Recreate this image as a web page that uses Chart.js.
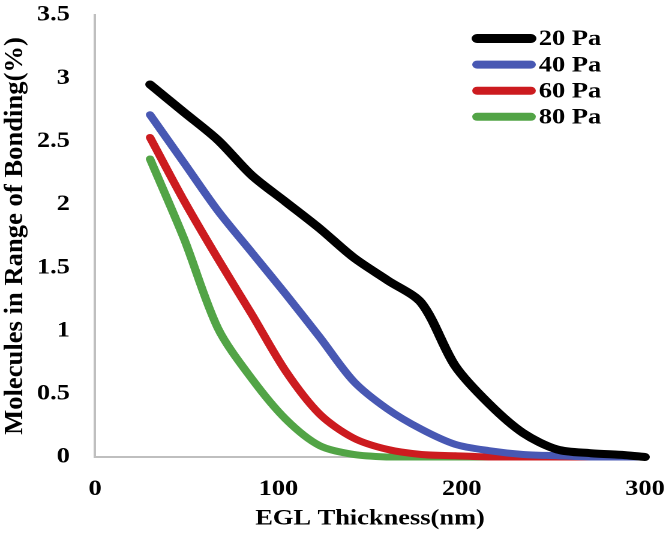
<!DOCTYPE html>
<html>
<head>
<meta charset="utf-8">
<script src="https://cdn.jsdelivr.net/npm/chart.js@4.4.1/dist/chart.umd.min.js"></script>
<style>
  html, body { margin: 0; padding: 0; background: #fff; overflow: hidden; }
  /* the original picture is stretched sideways, so the chart is drawn narrow and widened */
  #wrap { width: 555px; height: 539px; transform: scaleX(1.2); transform-origin: 0 0; }
</style>
</head>
<body>
<div id="wrap"><canvas id="bondChart"></canvas></div>
<script>
// EGL thickness (nm) where each curve has a point
const thickness = [30, 48.5, 67, 85.5, 104, 122.5, 141, 159.5, 178, 196.5, 215, 233.5, 252, 270.5, 289, 300];

// Molecules in range of bonding (%)
const pa20 = [2.95, 2.73, 2.51, 2.23, 2.02, 1.81, 1.58, 1.40, 1.22, 0.72, 0.42, 0.19, 0.06, 0.03, 0.015, 0];
const pa40 = [2.71, 2.33, 1.95, 1.62, 1.29, 0.95, 0.60, 0.38, 0.22, 0.10, 0.05, 0.02, 0.01, 0, 0, 0];
const pa60 = [2.53, 2.03, 1.57, 1.13, 0.68, 0.34, 0.15, 0.06, 0.02, 0.01, 0, 0, 0, 0, 0, 0];
const pa80 = [2.36, 1.73, 1.02, 0.62, 0.30, 0.09, 0.02, 0, 0, 0, 0, 0, 0, 0, 0, 0];

const seriesLabels = ["20 Pa", "40 Pa", "60 Pa", "80 Pa"];
const xTicks = [0, 100, 200, 300];
const yTicks = [0, 0.5, 1, 1.5, 2, 2.5, 3, 3.5];

const xTitle = "EGL Thickness(nm)";
const yTitle = "Molecules in Range of Bonding(%)";

const serif = "'Liberation Serif', 'Times New Roman', serif";
Chart.defaults.font.family = serif;
Chart.defaults.color = "#000";

const toPoints = (vals) => vals.map((v, i) => ({ x: thickness[i], y: v }));

function series(label, vals, color, width) {
  return {
    label: label,
    data: toPoints(vals),
    borderColor: color,
    backgroundColor: color,
    borderWidth: width,
    borderCapStyle: "round",
    borderJoinStyle: "round",
    pointRadius: 0,
    tension: 0.3,
    fill: false,
    clip: 8,
  };
}

// legend in a column at the top right, as in the original
const sideLegend = {
  id: "sideLegend",
  afterDraw(chart) {
    const ctx = chart.ctx;
    ctx.save();
    chart.data.datasets.forEach((ds, i) => {
      const y = 38.5 + i * 26.1;
      ctx.beginPath();
      ctx.lineCap = "round";
      ctx.strokeStyle = ds.borderColor;
      ctx.lineWidth = i === 0 ? 9 : 8;
      ctx.moveTo(397.5, y);
      ctx.lineTo(442.5, y);
      ctx.stroke();
      ctx.fillStyle = "#000";
      ctx.font = "bold 22px " + serif;
      ctx.textAlign = "left";
      ctx.textBaseline = "middle";
      ctx.fillText(ds.label, 449, y + 1);
    });
    ctx.restore();
  },
};

// y title: the original's letters run longer than they are thick
const yAxisTitle = {
  id: "yAxisTitle",
  afterDraw(chart) {
    const ctx = chart.ctx;
    const area = chart.chartArea;
    ctx.save();
    ctx.translate(18.3, (area.top + area.bottom) / 2);
    ctx.rotate(-Math.PI / 2);
    ctx.scale(1.21, 1);
    ctx.fillStyle = "#000";
    ctx.font = "bold 22px " + serif;
    ctx.textAlign = "center";
    ctx.textBaseline = "alphabetic";
    ctx.fillText(yTitle, 0, 0);
    ctx.restore();
  },
};

const ctx = document.getElementById("bondChart").getContext("2d");
const bondChart = new Chart(ctx, {
  type: "line",
  data: {
    datasets: [
      series(seriesLabels[0], pa20, "#000000", 8),
      series(seriesLabels[1], pa40, "#4858b3", 7),
      series(seriesLabels[2], pa60, "#cc1b1f", 7),
      series(seriesLabels[3], pa80, "#52a446", 7),
    ],
  },
  options: {
    responsive: true,
    maintainAspectRatio: false,
    animation: false,
    devicePixelRatio: 2,
    layout: { padding: { top: 15, right: 17.5, left: 0, bottom: 0 } },
    plugins: {
      legend: { display: false },
      tooltip: { enabled: false },
    },
    scales: {
      x: {
        type: "linear",
        min: 0,
        max: 300,
        afterBuildTicks: (scale) => { scale.ticks = xTicks.map((v) => ({ value: v })); },
        afterFit: (scale) => {
          scale.height = 82;
          scale.paddingLeft = 0;
          scale.paddingRight = 0;
        },
        grid: { display: false, drawTicks: false },
        border: { display: true, color: "#bfbfbf", width: 2 },
        ticks: {
          padding: 19,
          maxRotation: 0,
          color: "#000",
          font: { size: 22, weight: "bold" },
          callback: (v) => String(v),
        },
        title: {
          display: true,
          text: xTitle,
          color: "#000",
          padding: { top: 0, bottom: 7 },
          font: { size: 22, weight: "bold", lineHeight: 1.2 },
        },
      },
      y: {
        min: 0,
        max: 3.5,
        afterBuildTicks: (scale) => { scale.ticks = yTicks.map((v) => ({ value: v })); },
        afterFit: (scale) => {
          scale.width = 79.2;
          scale.paddingTop = 0;
          scale.paddingBottom = 0;
        },
        grid: { display: false, drawTicks: false },
        border: { display: true, color: "#bfbfbf", width: 2 },
        ticks: {
          padding: 21,
          color: "#000",
          font: { size: 22, weight: "bold" },
          callback: (v) => String(v),
        },
        title: { display: false },
      },
    },
  },
  plugins: [sideLegend, yAxisTitle],
});
</script>
</body>
</html>
